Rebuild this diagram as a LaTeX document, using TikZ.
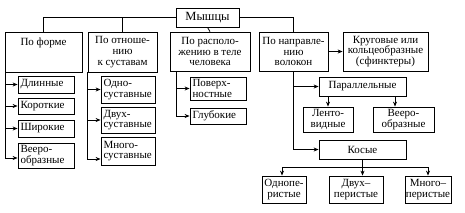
\documentclass[tikz,border=0pt]{standalone}
\usepackage{fontspec}
\setmainfont{Liberation Serif}
\usetikzlibrary{arrows.meta, positioning, calc}
\hyphenpenalty=10000

\begin{document}
\begin{tikzpicture}[
    x=1pt, y=-1pt,
    box/.style={rectangle, draw, line width=0.8pt, inner sep=1pt, align=center,
        font=\fontsize{11}{10.8}\selectfont},
    leaf/.style={box, align=left, inner xsep=2.5pt, text width=#1},
    link/.style={line width=0.8pt},
    arr/.style={link, -{Stealth[length=5pt, width=4pt]}}
]
\useasboundingbox (0,0) rectangle (465,212);

% Root
\node[box, minimum width=63pt, minimum height=19pt, font=\fontsize{12.5}{13}\selectfont] (muscles) at (207.5,17.5) {Мышцы};

% Groups
\node[box, minimum width=77pt, minimum height=40pt] (form) at (43.5,52) {По форме\\~\\~};
\node[box, minimum width=69pt, minimum height=40pt] (rel) at (122.5,52) {По отноше-\\нию\\к суставам};
\node[box, minimum width=80pt, minimum height=39pt] (loc) at (210,51.5) {По располо-\\жению в теле\\человека};
\node[box, minimum width=69pt, minimum height=39pt] (dir) at (293.5,51.5) {По направле-\\нию\\волокон};
\node[box, minimum width=85pt, minimum height=39pt] (circ) at (385.5,51.5) {Круговые или\\кольцеобразные\\(сфинктеры)};

% By shape
\node[leaf=51pt, minimum height=17pt] (long) at (46,84.5) {Длинные};
\node[leaf=51pt, minimum height=16pt] (short) at (46,106) {Короткие};
\node[leaf=51pt, minimum height=17pt] (wide) at (46,128.5) {Широкие};
\node[leaf=51pt, minimum height=25pt] (fan) at (46,155.5) {Вееро-\\образные};

% By joints
\node[leaf=49pt, minimum height=27pt] (single) at (128,89.5) {Одно-\\суставные};
\node[leaf=49pt, minimum height=26pt] (double) at (128,120) {Двух-\\суставные};
\node[leaf=49pt, minimum height=28pt] (multi) at (128,151) {Много-\\суставные};

% By position
\node[leaf=51pt, minimum height=23pt] (surf) at (218,88.5) {Поверх-\\ностные};
\node[leaf=51pt, minimum height=16pt] (deep) at (218,116) {Глубокие};

% By fibres
\node[box, minimum width=87pt, minimum height=19pt] (par) at (362.5,86.5) {Параллельные};
\node[box, minimum width=50pt, minimum height=25pt] (tape) at (328,119.5) {Ленто-\\видные};
\node[box, minimum width=61pt, minimum height=25pt] (fanpar) at (403.5,119.5) {Вееро-\\образные};
\node[box, minimum width=87pt, minimum height=19pt] (obl) at (362.5,149.5) {Косые};
\node[box, minimum width=44pt, minimum height=27pt] (onep) at (284,189.5) {Однопе-\\ристые};
\node[box, minimum width=54pt, minimum height=27pt] (twop) at (356,189.5) {Двух–\\перистые};
\node[box, minimum width=42pt, minimum height=27pt] (manyp) at (428,189.5) {Много–\\перистые};

% Top links
\draw[link] (muscles.west) -| (form.north);
\draw[link] (rel.north) -- (rel.north |- muscles.west);
\draw[link] (muscles.south) -- (loc.north);
\draw[link] (muscles.east) -| (dir.north);

% Trunks
\coordinate (formtrunk) at ([xshift=1pt]form.south west);
\coordinate (reltrunk) at (rel.south west);
\coordinate (loctrunk) at ([xshift=7pt]loc.south west);
\coordinate (oblbus) at ($(obl.south)+(0,8)$);

\draw[arr] (formtrunk) |- (long.west);
\draw[arr] (formtrunk) |- (short.west);
\draw[arr] (formtrunk) |- (wide.west);
\draw[arr] (formtrunk) |- ([yshift=-2.5pt]fan.west);

\draw[arr] (reltrunk) |- (single.west);
\draw[arr] (reltrunk) |- (double.west);
\draw[arr] (reltrunk) |- ([yshift=-8pt]multi.west);

\draw[arr] (loctrunk) |- (surf.west);
\draw[arr] (loctrunk) |- (deep.west);

\draw[arr] (dir.east) -- (circ.west);
\draw[arr] (dir.south) |- (par.west);
\draw[arr] (dir.south) |- (obl.west);
\draw[arr] (par.south -| tape.north) -- (tape.north);
\draw[arr] ([xshift=32.5pt]par.south) -- ([xshift=32.5pt]par.south |- fanpar.north);

\draw[arr] (obl.south) -- (obl.south |- twop.north);
\draw[arr] (oblbus) -| ([xshift=-2pt]onep.north);
\draw[arr] (oblbus) -| (manyp.north);

\end{tikzpicture}
\end{document}
